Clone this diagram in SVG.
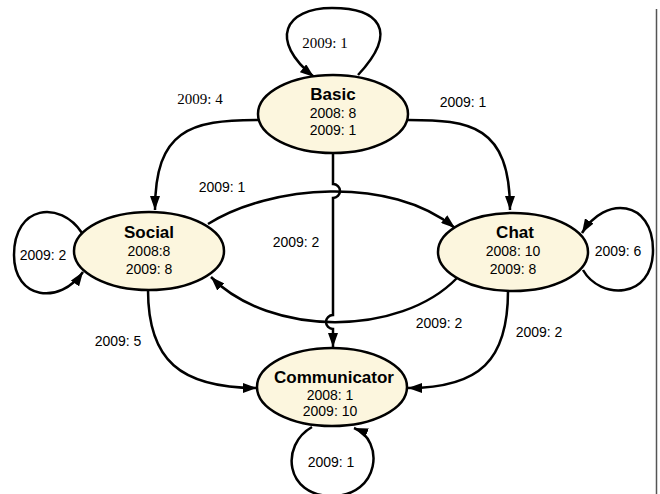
<svg xmlns="http://www.w3.org/2000/svg" width="660" height="494" viewBox="0 0 660 494">
<style>
.node ellipse{fill:#fcf6de;stroke:#000;stroke-width:2.5}
.t{font-family:"Liberation Sans",Arial,sans-serif;font-size:17px;font-weight:bold;text-anchor:middle;fill:#000}
.n{font-family:"Liberation Sans",Arial,sans-serif;font-size:14px;text-anchor:middle;fill:#000}
.l{font-family:"Liberation Sans",Arial,sans-serif;font-size:14px;text-anchor:middle;fill:#000}
.ls{font-family:"Liberation Serif","Times New Roman",serif;font-size:15px;text-anchor:middle;fill:#000}
.e{fill:none;stroke:#000;stroke-width:2.5}
</style>
<defs>
<marker id="ah" viewBox="0 0 14 10" refX="14" refY="5" markerWidth="14" markerHeight="10" markerUnits="userSpaceOnUse" orient="auto">
<path d="M0,0 L14,5 L0,10 z" fill="#000"/>
</marker>
</defs>
<line x1="656.5" y1="9" x2="656.5" y2="494" stroke="#555" stroke-width="1.5"/>
<g id="connectors">
<path class="e" d="M358 75 C400 30 378 8 332 8 C285 8 268 40 314 77" marker-end="url(#ah)"/>
<path class="e" d="M258 120 C190 120 155 130 155 210" marker-end="url(#ah)"/>
<path class="e" d="M408 120 C470 120 510 125 510 210" marker-end="url(#ah)"/>
<path class="e" d="M333 153 V184 A7 7 0 0 1 333 198 V315 A7 7 0 0 0 333 329 V347" marker-end="url(#ah)"/>
<path class="e" d="M208 224 C270 185 390 175 455 228" marker-end="url(#ah)"/>
<path class="e" d="M457 278 C400 337 270 337 211 277" marker-end="url(#ah)"/>
<path class="e" d="M82 233 C60 200 14 205 14 255 C14 300 60 305 83 272" marker-end="url(#ah)"/>
<path class="e" d="M583 270 C600 300 653 300 653 250 C653 200 605 195 582 233" marker-end="url(#ah)"/>
<path class="e" d="M148 290 C148 360 180 388 257 388" marker-end="url(#ah)"/>
<path class="e" d="M508 291 C508 360 480 388 408 388" marker-end="url(#ah)"/>
<path class="e" d="M312 427 C280 445 285 496 332 496 C380 496 385 440 354 428" marker-end="url(#ah)"/>
<text class="ls" x="325" y="48">2009: 1</text>
<text class="ls" x="200" y="104">2009: 4</text>
<text class="l" x="463" y="107">2009: 1</text>
<text class="l" x="222" y="192">2009: 1</text>
<text class="l" x="43" y="260">2009: 2</text>
<text class="l" x="296" y="247">2009: 2</text>
<text class="l" x="618" y="256">2009: 6</text>
<text class="l" x="118" y="346">2009: 5</text>
<text class="l" x="439" y="328">2009: 2</text>
<text class="l" x="539" y="337">2009: 2</text>
<text class="l" x="331" y="467">2009: 1</text>
</g>
<g id="basic" class="node">
<ellipse cx="333" cy="114" rx="75" ry="39"/>
<text class="t" x="333" y="100">Basic</text>
<text class="n" x="333" y="118">2008: 8</text>
<text class="n" x="333" y="135">2009: 1</text>
</g>
<g id="social" class="node">
<ellipse cx="149" cy="251" rx="75" ry="39"/>
<text class="t" x="149" y="238">Social</text>
<text class="n" x="149" y="256">2008:8</text>
<text class="n" x="149" y="274">2009: 8</text>
</g>
<g id="chat" class="node">
<ellipse cx="513" cy="252" rx="75" ry="39"/>
<text class="t" x="515" y="238">Chat</text>
<text class="n" x="513" y="256">2008: 10</text>
<text class="n" x="513" y="274">2009: 8</text>
</g>
<g id="communicator" class="node">
<ellipse cx="332" cy="387" rx="75" ry="39"/>
<text class="t" x="334" y="383">Communicator</text>
<text class="n" x="330" y="400">2008: 1</text>
<text class="n" x="330" y="416">2009: 10</text>
</g>
</svg>
